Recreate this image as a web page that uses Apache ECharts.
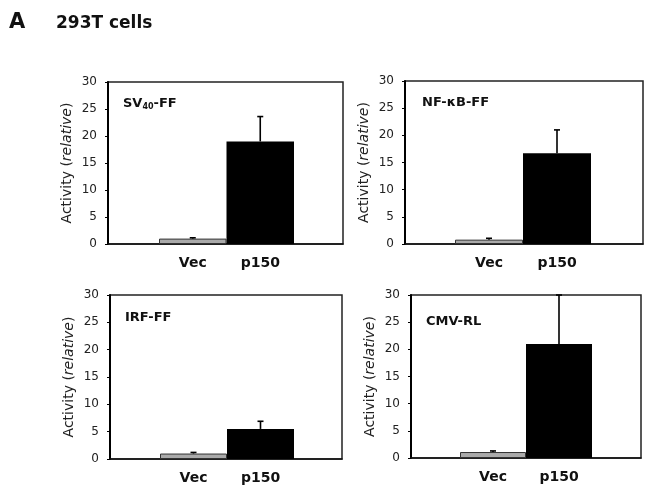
<!DOCTYPE html>
<html>
<head>
<meta charset="utf-8">
<script src="https://cdn.jsdelivr.net/npm/echarts@6/dist/echarts.min.js"></script>
<style>
html,body{margin:0;padding:0;background:#fff;}
#chart{width:651px;height:491px;}
</style>
</head>
<body>
<div id="chart"></div>
<script>
// ---- data ----
const categories = ['Vec', 'p150'];
const yTicks = [0, 5, 10, 15, 20, 25, 30];
const sv40Means = [1.0, 19.0];
const sv40Errs  = [0.15, 4.6];
const nfkbMeans = [0.8, 16.7];
const nfkbErrs  = [0.25, 4.3];
const irfMeans  = [1.0, 5.5];
const irfErrs   = [0.2, 1.4];
const cmvMeans  = [1.1, 21.0];
const cmvErrs   = [0.2, 9.0];
const panelTitles = ['{b|SV}{s|40}{b|-FF}', '{b|NF-κB-FF}', '{b|IRF-FF}', '{b|CMV-RL}'];
const yAxisName = '{n|Activity (}{i|relative}{n|)}';

// ---- layout ----
const FONT = 'DejaVu Sans';
const panels = [
  {means: sv40Means, errs: sv40Errs, frame: [108, 82, 235, 162], bars: [159, 135], title: [123, 97]},
  {means: nfkbMeans, errs: nfkbErrs, frame: [405, 81, 238, 163], bars: [455, 136], title: [422, 96]},
  {means: irfMeans,  errs: irfErrs,  frame: [110, 295, 232, 164], bars: [160, 134], title: [125, 311]},
  {means: cmvMeans,  errs: cmvErrs,  frame: [411, 295, 230, 163], bars: [460, 132], title: [426, 315]}
];

const grid = [], xAxis = [], yAxis = [], series = [], title = [];

title.push({text: 'A', left: 9, top: 12, padding: 0, textStyle: {fontFamily: FONT, fontWeight: 'bold', fontSize: 21, color: '#111'}});
title.push({text: '293T cells', left: 56, top: 15, padding: 0, textStyle: {fontFamily: FONT, fontWeight: 'bold', fontSize: 17, color: '#111'}});

panels.forEach((p, k) => {
  const [fl, ft, fw, fh] = p.frame;
  const gF = grid.length;
  grid.push({left: fl, top: ft, width: fw, height: fh, show: true, borderColor: '#222', borderWidth: 1.5, backgroundColor: 'transparent'});
  const gB = grid.length;
  grid.push({left: p.bars[0], top: ft, width: p.bars[1], height: fh});

  // frame axes
  xAxis.push({gridIndex: gF, type: 'value', min: 0, max: 1, axisLine: {show: true, lineStyle: {color: '#111', width: 1.5}},
    axisTick: {show: false}, axisLabel: {show: false}, splitLine: {show: false}});
  yAxis.push({gridIndex: gF, type: 'value', min: yTicks[0], max: yTicks[yTicks.length - 1], interval: yTicks[1] - yTicks[0],
    axisLine: {show: true, lineStyle: {color: '#000', width: 2}},
    axisTick: {show: true, length: 3, lineStyle: {color: '#000', width: 1}},
    axisLabel: {fontFamily: FONT, fontSize: 12, color: '#222', margin: 11},
    splitLine: {show: false},
    name: yAxisName, nameLocation: 'middle', nameRotate: 90, nameGap: 34,
    nameTextStyle: {fontFamily: FONT, fontSize: 14, color: '#222',
      rich: {n: {fontFamily: FONT, fontSize: 14, color: '#222'}, i: {fontFamily: FONT, fontSize: 14, color: '#222', fontStyle: 'italic'}}}
  });

  // bar axes
  const xB = xAxis.length;
  xAxis.push({gridIndex: gB, type: 'category', data: categories, boundaryGap: true,
    axisLine: {show: false}, axisTick: {show: false},
    axisLabel: {fontFamily: FONT, fontWeight: 'bold', fontSize: 14, color: '#111', margin: 12}});
  const yB = yAxis.length;
  yAxis.push({gridIndex: gB, type: 'value', min: yTicks[0], max: yTicks[yTicks.length - 1], show: false});

  series.push({type: 'bar', xAxisIndex: xB, yAxisIndex: yB, barCategoryGap: '0%', z: 2,
    data: p.means.map((v, i) => ({value: v, itemStyle: i === 0 ? {color: '#aaaaaa', borderColor: '#333', borderWidth: 1} : {color: '#000'}}))});

  series.push({type: 'custom', xAxisIndex: xB, yAxisIndex: yB, z: 5,
    data: p.means.map((v, i) => [i, v, v + p.errs[i]]),
    renderItem: function (params, api) {
      const a = api.coord([api.value(0), api.value(1)]);
      const b = api.coord([api.value(0), api.value(2)]);
      const st = {stroke: '#000', lineWidth: 1.6};
      return {type: 'group', children: [
        {type: 'line', shape: {x1: a[0], y1: a[1], x2: b[0], y2: b[1]}, style: st},
        {type: 'line', shape: {x1: b[0] - 3, y1: b[1], x2: b[0] + 3, y2: b[1]}, style: st}
      ]};
    }
  });

  title.push({text: panelTitles[k], left: p.title[0], top: p.title[1], padding: 0,
    textStyle: {rich: {
      b: {fontFamily: FONT, fontWeight: 'bold', fontSize: 13, color: '#111'},
      s: {fontFamily: FONT, fontWeight: 'bold', fontSize: 8, color: '#111', verticalAlign: 'bottom', padding: [6, 0, 0, 0]}
    }}});
});

const chart = echarts.init(document.getElementById('chart'), null, {renderer: 'canvas'});
chart.setOption({animation: false, backgroundColor: '#fff', title, grid, xAxis, yAxis, series});
</script>
</body>
</html>
